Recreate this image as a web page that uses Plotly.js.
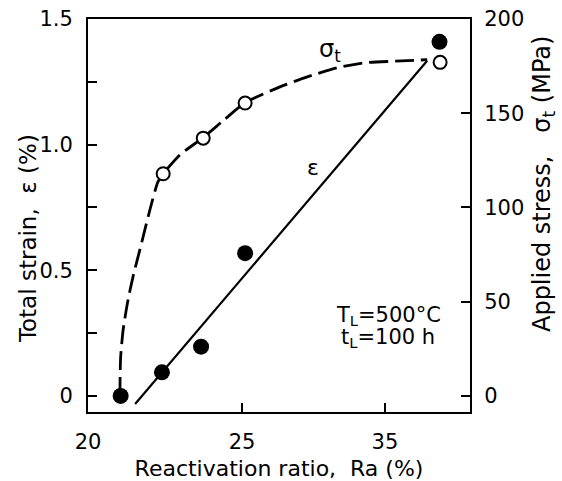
<!DOCTYPE html>
<html>
<head>
<meta charset="utf-8">
<script src="https://cdn.plot.ly/plotly-3.0.1.min.js"></script>
<style>html,body{margin:0;padding:0;background:#fff;}#chart{width:562px;height:481px;}</style>
</head>
<body>
<div id="chart"></div>
<script>
// x positions in axis units (axis is labelled 20, 25, 35 as in the original figure)
const xTickVals = [20, 25, 29.64];
const xTickText = ["20", "25", "35"];
const yTickVals = [0, 0.5, 1.0, 1.5];
const yTickText = ["0", "0.5", "1.0", "1.5"];
const y2TickVals = [0, 50, 100, 150, 200];

// total strain ε (%) – filled circles
const strainX = [21.06, 22.40, 23.67, 25.10, 31.41];
const strainY = [0, 0.094, 0.196, 0.568, 1.409];
// linear fit for ε
const strainFitX = [21.53, 31.01];
const strainFitY = [-0.032, 1.334];

// applied stress σt (MPa) – open circles
const stressX = [22.44, 23.74, 25.10, 31.43];
const stressY = [117.9, 136.8, 155.4, 177.0];
// dashed curve for σt
const stressCurveX = [21.04, 21.04, 21.06, 21.14, 21.30, 21.46, 21.74, 22.01, 22.27, 22.44, 22.99, 23.73, 24.42, 25.10, 26.23, 27.14, 28.08, 28.99, 29.97, 31.01];
const stressCurveY = [0, 6.9, 20.7, 35.0, 51.0, 63.2, 81.2, 98.8, 113.6, 117.9, 128, 137, 146.5, 155.6, 164, 169.4, 174.1, 176.8, 177.6, 178.4];

const F = "DejaVu Sans, sans-serif";

const traces = [
  {x: stressCurveX, y: stressCurveY, yaxis: "y2", mode: "lines", type: "scatter",
   line: {color: "#000", width: 2.8, dash: "19px,7px", shape: "spline", smoothing: 0.6}, hoverinfo: "skip"},
  {x: strainFitX, y: strainFitY, mode: "lines", type: "scatter",
   line: {color: "#000", width: 2.2}, hoverinfo: "skip"},
  {x: stressX, y: stressY, yaxis: "y2", mode: "markers", type: "scatter",
   marker: {symbol: "circle", size: 13, color: "#fff", line: {color: "#000", width: 2}}},
  {x: strainX, y: strainY, mode: "markers", type: "scatter",
   marker: {symbol: "circle", size: 16, color: "#000", line: {color: "#000", width: 0}}}
];

const layout = {
  width: 562, height: 481,
  margin: {l: 88, r: 92, t: 19, b: 69, pad: 0},
  paper_bgcolor: "#fff", plot_bgcolor: "#fff",
  showlegend: false,
  font: {family: F, color: "#000", size: 21},
  xaxis: {
    range: [20, 32.40], tickvals: xTickVals, ticktext: xTickText,
    ticks: "inside", ticklen: 9, tickwidth: 2, tickcolor: "#000",
    showline: true, linecolor: "#000", linewidth: 2, mirror: true,
    showgrid: false, zeroline: false, ticklabelstandoff: 10,
    tickfont: {family: F, size: 21, color: "#000"},
    title: {text: "Reactivation ratio,  Ra (%)", font: {family: F, size: 22, color: "#000"}, standoff: 22}
  },
  yaxis: {
    range: [-0.064, 1.5], tickvals: yTickVals, ticktext: yTickText,
    ticks: "inside", ticklen: 9, tickwidth: 2, tickcolor: "#000",
    minor: {dtick: 0.25, tick0: 0, ticks: "inside", ticklen: 9, tickwidth: 2, tickcolor: "#000", showgrid: false},
    showline: true, linecolor: "#000", linewidth: 2, mirror: true,
    showgrid: false, zeroline: false, ticklabelstandoff: 9,
    tickfont: {family: F, size: 21, color: "#000"}
  },
  yaxis2: {
    overlaying: "y", side: "right", range: [-8.5, 200], tickvals: y2TickVals,
    ticks: "inside", ticklen: 9, tickwidth: 2, tickcolor: "#000",
    showline: true, linecolor: "#000", linewidth: 2,
    showgrid: false, zeroline: false, ticklabelstandoff: 8,
    tickfont: {family: F, size: 21, color: "#000"}
  },
  annotations: [
    {xref: "paper", yref: "paper", x: -0.157, y: 0.44, text: "Total strain,  ε (%)", textangle: -90,
     showarrow: false, font: {family: F, size: 23, color: "#000"}, xanchor: "center", yanchor: "middle"},
    {xref: "paper", yref: "paper", x: 1.191, y: 0.58, text: "Applied stress,   σ<sub>t</sub> (MPa)", textangle: -90,
     showarrow: false, font: {family: F, size: 24, color: "#000"}, xanchor: "center", yanchor: "middle"},
    {xref: "paper", yref: "paper", x: 0.634, y: 0.921, text: "σ<sub>t</sub>",
     showarrow: false, font: {family: F, size: 24, color: "#000"}, xanchor: "center", yanchor: "middle"},
    {xref: "paper", yref: "paper", x: 0.589, y: 0.623, text: "ε",
     showarrow: false, font: {family: F, size: 22, color: "#000"}, xanchor: "center", yanchor: "middle"},
    {xref: "paper", yref: "paper", x: 0.645, y: 0.2455, text: "T<sub>L</sub>=500°C",
     showarrow: false, font: {family: F, size: 21, color: "#000"}, xanchor: "left", yanchor: "middle"},
    {xref: "paper", yref: "paper", x: 0.658, y: 0.188, text: "t<sub>L</sub>=100 h",
     showarrow: false, font: {family: F, size: 21, color: "#000"}, xanchor: "left", yanchor: "middle"}
  ]
};

Plotly.newPlot("chart", traces, layout, {staticPlot: true, displayModeBar: false});
</script>
</body>
</html>
